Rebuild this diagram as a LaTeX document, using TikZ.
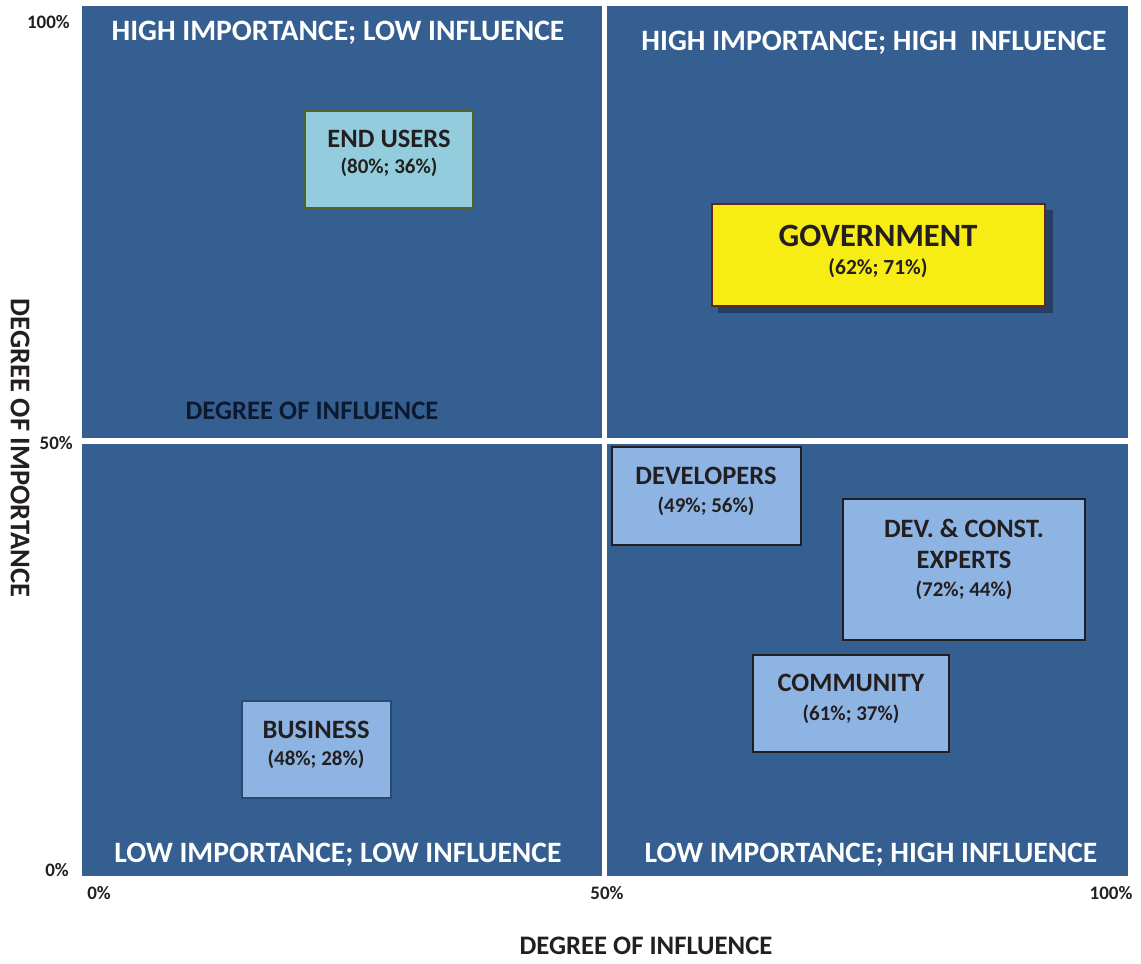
\documentclass[tikz,border=0pt]{standalone}
\usepackage{fontspec}
\setmainfont{Carlito}
\definecolor{plotblue}{HTML}{365F91}
\definecolor{shadowblue}{HTML}{243F60}
\definecolor{inktext}{HTML}{231F20}
\definecolor{navytext}{HTML}{0C1A30}
\definecolor{boxblue}{HTML}{8EB4E3}
\definecolor{boxcyan}{HTML}{93CDDD}
\definecolor{boxyellow}{HTML}{F7EC14}
\definecolor{olive}{HTML}{4F6228}
\definecolor{darkred}{HTML}{632523}
\definecolor{slateedge}{HTML}{2B4A6F}
\tikzset{
  quadtitle/.style={text=white, font=\fontsize{29.6}{34}\selectfont\bfseries, inner sep=0pt},
  tick/.style={text=inktext, font=\fontsize{19}{22}\selectfont\bfseries, inner sep=0pt},
  axistitle/.style={text=inktext, font=\fontsize{26.7}{30}\selectfont\bfseries, inner sep=0pt},
  actor/.style={draw=inktext, line width=2pt, fill=boxblue, inner sep=0pt},
  actorname/.style={text=inktext, font=\fontsize{26.5}{30}\selectfont\bfseries, inner sep=0pt},
  actorscore/.style={text=inktext, font=\fontsize{21}{24}\selectfont\bfseries, inner sep=0pt},
  divider/.style={draw=white, line width=6pt}
}
\begin{document}
\begin{tikzpicture}[x=1pt,y=-1pt]
\useasboundingbox (0,0) rectangle (1141,964);

% plot field and quadrant dividers
\fill[plotblue] (82,6) rectangle (1128,876);
\coordinate (vtop) at (604.5,6);
\coordinate (vbot) at (604.5,876);
\coordinate (hleft) at (82,440.5);
\coordinate (hright) at (1128,440.5);
\draw[divider, line width=5.5pt] (vtop) -- (vbot);
\draw[divider] (hleft) -- (hright);

% quadrant titles
\node[quadtitle] (qtl) at (338,33) {HIGH IMPORTANCE; LOW INFLUENCE};
\node[quadtitle] (qtr) at (874,43) {HIGH IMPORTANCE; HIGH\ \ INFLUENCE};
\node[quadtitle] (qbl) at (338,855) {LOW IMPORTANCE; LOW INFLUENCE};
\node[quadtitle] (qbr) at (871,855) {LOW IMPORTANCE; HIGH INFLUENCE};

% stray caption inside the upper-left quadrant
\node[axistitle, text=navytext] (inner) at (312,411) {DEGREE OF INFLUENCE};

% axis ticks
\node[tick, anchor=east] (y100) at (70,22) {100\%};
\node[tick, anchor=east] (y50) at (73,443) {50\%};
\node[tick, anchor=east] (y0) at (69,870.5) {0\%};
\node[tick] (x0) at (99,893) {0\%};
\node[tick] (x50) at (607,893) {50\%};
\node[tick] (x100) at (1111,893) {100\%};

% axis titles
\node[axistitle] (xtitle) at (646,946) {DEGREE OF INFLUENCE};
\node[axistitle, font=\fontsize{28.5}{32}\selectfont\bfseries, rotate=-90] (ytitle) at (20,448) {DEGREE OF IMPORTANCE};

% stakeholder boxes
\node[actor, fill=boxcyan, draw=olive, minimum width=168pt, minimum height=97pt] (endusers) at (389,159.5) {};
\node[actorname] (endusersname) at (389,139) {END USERS};
\node[actorscore] (endusersscore) at (389,167) {(80\%; 36\%)};

\fill[shadowblue] (718,210) rectangle (1053,313);
\node[actor, fill=boxyellow, draw=darkred, minimum width=333pt, minimum height=102pt] (gov) at (878.5,255) {};
\node[actorname, font=\fontsize{32.5}{37}\selectfont\bfseries] (govname) at (878,236) {GOVERNMENT};
\node[actorscore, font=\fontsize{21.5}{25}\selectfont\bfseries] (govscore) at (878,268) {(62\%; 71\%)};

\node[actor, minimum width=189pt, minimum height=98pt] (dev) at (706.5,496) {};
\node[actorname] (devname) at (706,476) {DEVELOPERS};
\node[actorscore] (devscore) at (706,506) {(49\%; 56\%)};

\node[actor, minimum width=242pt, minimum height=141pt] (experts) at (964,569.5) {};
\node[actorname] (expertsname1) at (964,528) {DEV. \& CONST.};
\node[actorname] (expertsname2) at (964,560) {EXPERTS};
\node[actorscore] (expertsscore) at (964,590) {(72\%; 44\%)};

\node[actor, minimum width=196pt, minimum height=97pt] (community) at (851,703.5) {};
\node[actorname] (communityname) at (851,683) {COMMUNITY};
\node[actorscore] (communityscore) at (851,714) {(61\%; 37\%)};

\node[actor, draw=slateedge, line width=1.5pt, minimum width=149pt, minimum height=97pt] (business) at (316.5,749.5) {};
\node[actorname] (businessname) at (316,730) {BUSINESS};
\node[actorscore] (businessscore) at (316,759) {(48\%; 28\%)};
\end{tikzpicture}
\end{document}
